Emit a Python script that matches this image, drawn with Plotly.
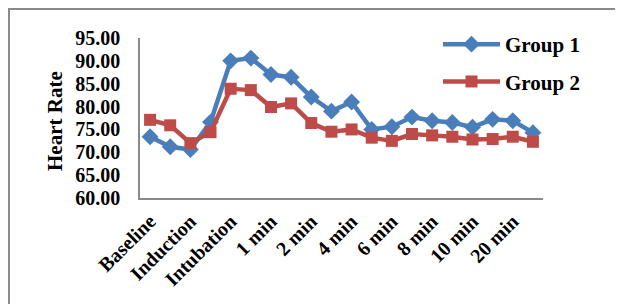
import plotly.graph_objects as go

# Measurement time points (20 readings; every other one is labelled on the axis)
time_index = list(range(20))
tick_labels = ["Baseline", "Induction", "Intubation", "1 min", "2 min",
               "4 min", "6 min", "8 min", "10 min", "20 min"]
tick_positions = time_index[::2]

group1 = [73.4, 71.2, 70.6, 76.6, 90.0, 90.6, 87.0, 86.4, 82.1, 79.0,
          81.0, 75.0, 75.6, 77.7, 76.9, 76.5, 75.5, 77.2, 76.9, 74.3]
group2 = [77.1, 75.9, 72.0, 74.4, 83.9, 83.6, 79.9, 80.7, 76.4, 74.5,
          75.0, 73.2, 72.5, 74.0, 73.7, 73.4, 72.8, 72.9, 73.4, 72.3]

BLUE = "#4A7EBB"
RED = "#BE4B48"
FONT = "Liberation Serif"

fig = go.Figure()
fig.add_trace(go.Scatter(
    x=time_index, y=group1, name="<b>Group 1</b>", mode="lines+markers",
    line=dict(color=BLUE, width=4.5),
    marker=dict(symbol="diamond", size=13, color=BLUE),
    legendgroup="g1"))
fig.add_trace(go.Scatter(
    x=time_index, y=group2, name="<b>Group 2</b>", mode="lines+markers",
    line=dict(color=RED, width=4.5),
    marker=dict(symbol="square", size=12, color=RED),
    legendgroup="g2"))

# page has an 8px body margin, so figure coords = screen coords - 8
OFF = 8
L, R, T, B = 140 - OFF, 88, 38 - OFF, 114
W, H = 623, 304
pw, ph = W - L - R, H - T - B

def px_x(x):
    return (x - OFF - L) / pw

def px_y(y):
    return (H - B - (y - OFF)) / ph

fig.update_layout(
    width=W, height=H,
    margin=dict(l=L, r=R, t=T, b=B, autoexpand=False),
    paper_bgcolor="white", plot_bgcolor="white",
    font=dict(family=FONT, size=20, color="black"),
    showlegend=True,
    legend=dict(
        x=px_x(438), y=px_y(24), xanchor="left", yanchor="top",
        font=dict(family=FONT, size=21, color="black"),
        bgcolor="rgba(0,0,0,0)", itemwidth=57, tracegroupgap=7,
    ),
    xaxis=dict(
        range=[-0.5, 19.5], tickmode="array",
        tickvals=tick_positions, ticktext=tick_labels,
        tickangle=-45, showgrid=False, zeroline=False, automargin=False,
        showline=True, linecolor="#8A8A8A", linewidth=1.5,
        ticks="", tickfont=dict(family=FONT, size=20, color="black", weight="bold"),
        ticklabelstandoff=2,
    ),
    yaxis=dict(
        range=[60, 95], dtick=5, tickformat=".2f", automargin=False,
        showgrid=False, zeroline=False,
        showline=True, linecolor="#8A8A8A", linewidth=1.5,
        ticks="", tickfont=dict(family=FONT, size=20, color="black", weight="bold"),
        ticklabelstandoff=14,
    ),
    shapes=[dict(
        type="rect", xref="paper", yref="paper",
        x0=px_x(9), x1=px_x(660), y0=px_y(340), y1=px_y(9),
        line=dict(color="#8A8A8A", width=2), fillcolor="rgba(0,0,0,0)",
        layer="below")],
    annotations=[dict(
        text="<b>Heart Rate</b>", xref="paper", yref="paper",
        x=px_x(55), y=px_y(121), textangle=-90, showarrow=False,
        xanchor="center", yanchor="middle",
        font=dict(family=FONT, size=21, color="black"))],
)

fig.write_html("out.html")
